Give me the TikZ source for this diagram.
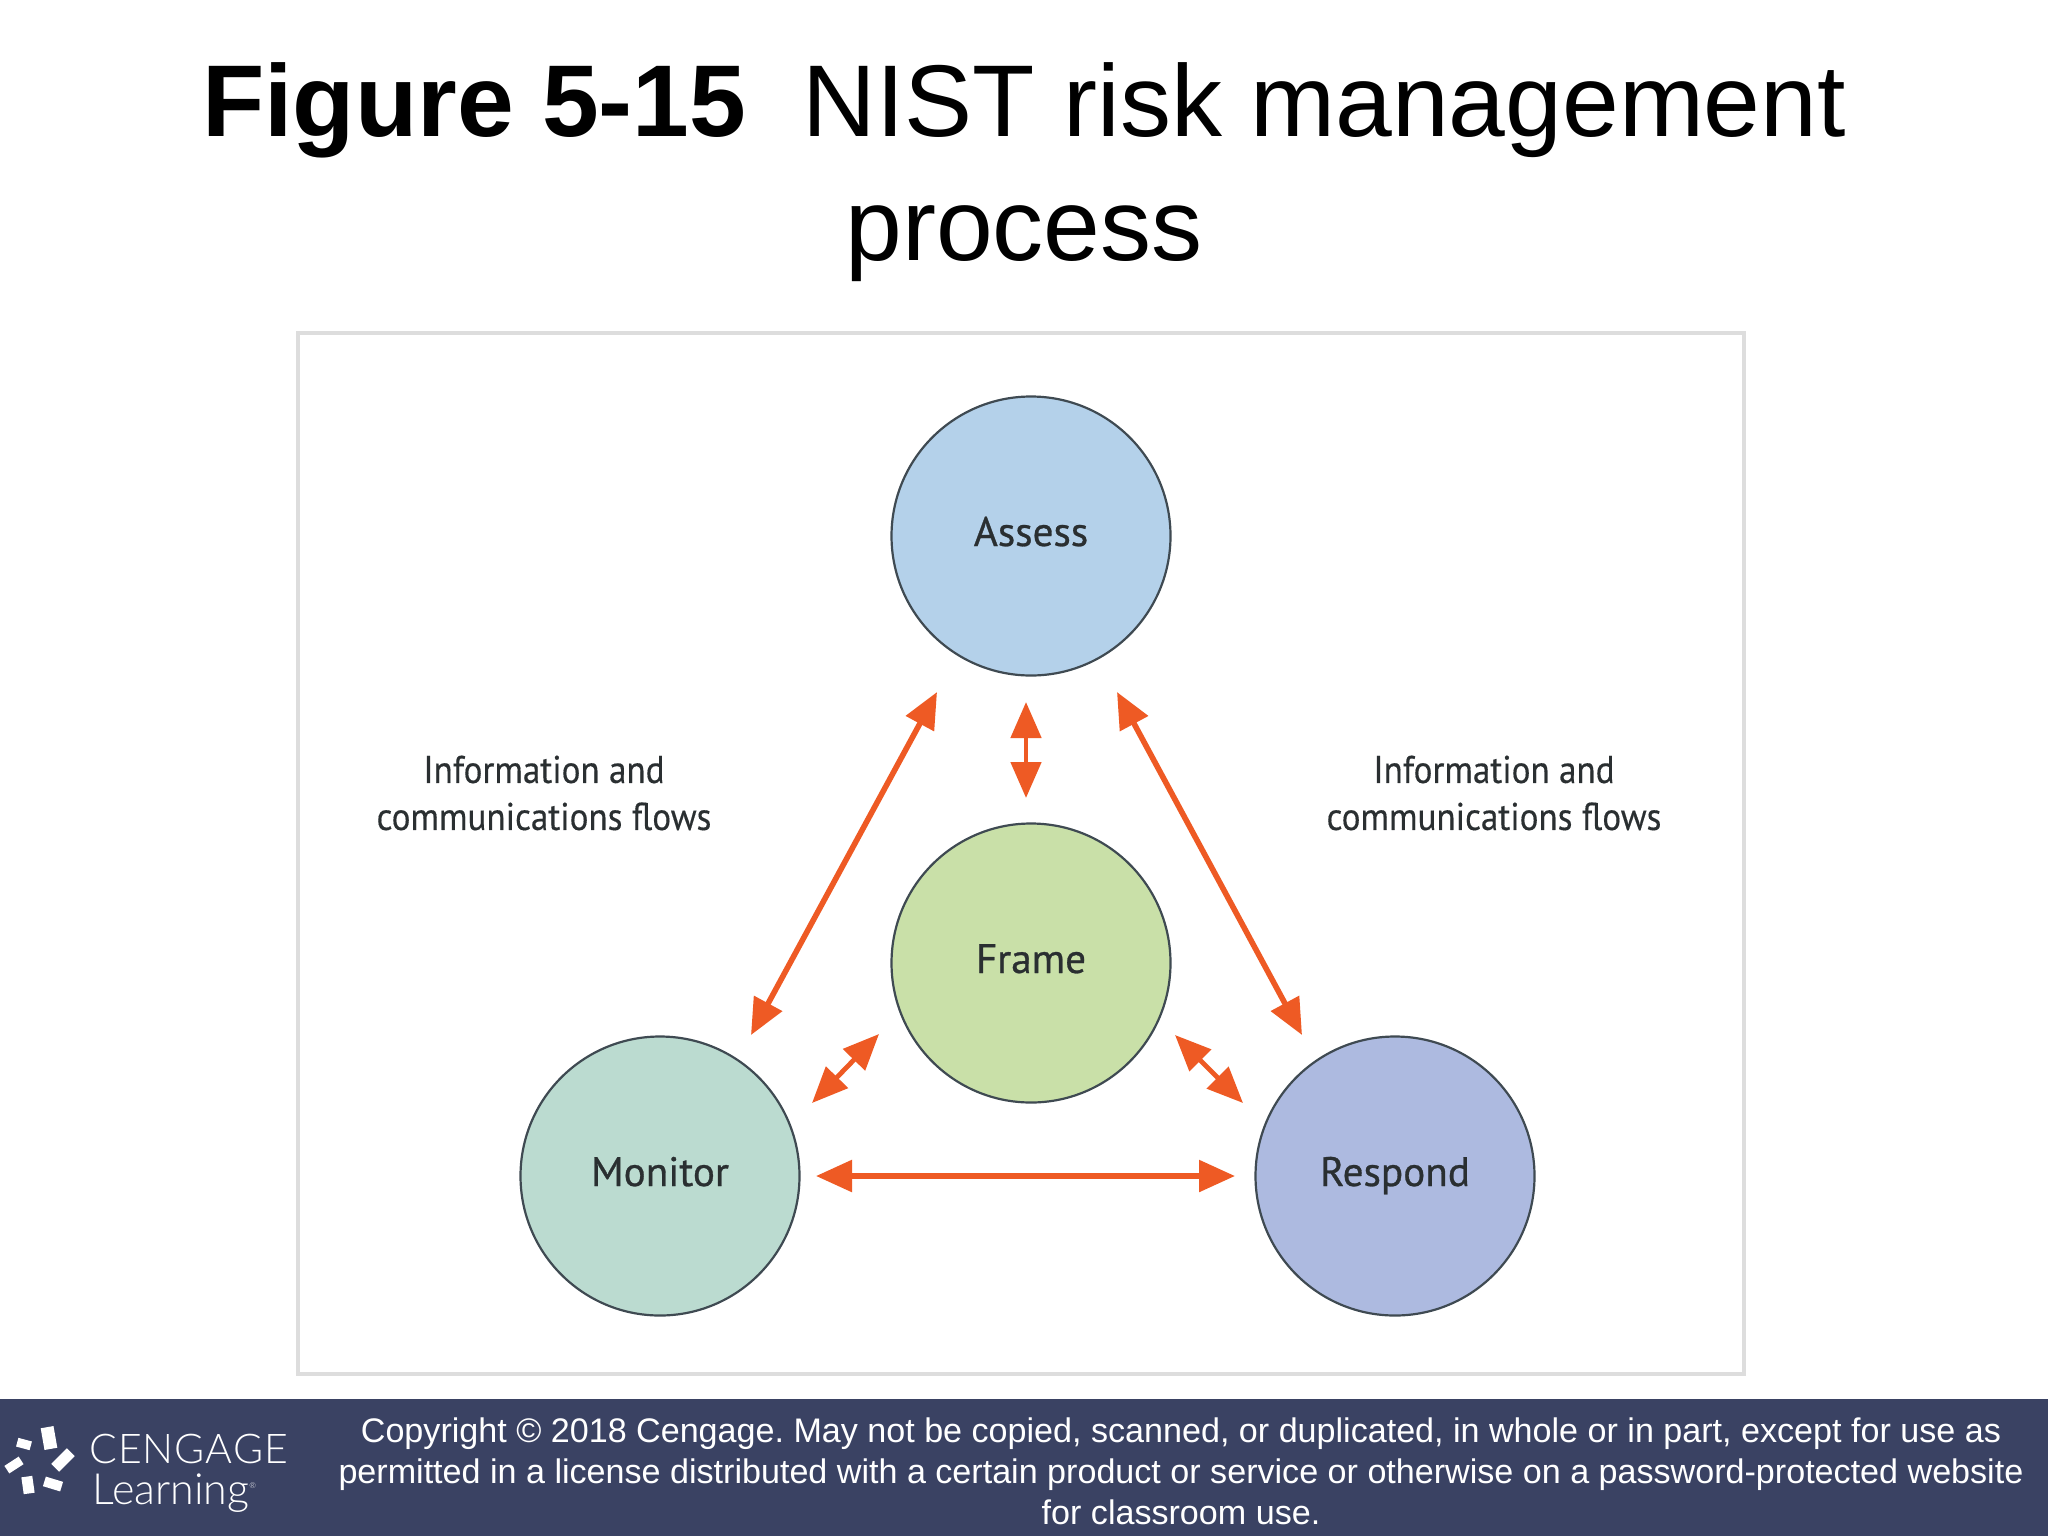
\documentclass[tikz,border=0pt]{standalone}
\usepackage{fontspec}
\setmainfont{Liberation Sans}
\newfontfamily\labelfont[FakeBold=0.7]{PT Sans}
\newfontfamily\notefont[FakeStretch=0.91,FakeBold=0.35]{PT Sans}
\newfontfamily\logofont{Lato Light}
\usetikzlibrary{arrows.meta}
\definecolor{footerblue}{HTML}{3A4263}
\definecolor{framegrey}{HTML}{DDDDDD}
\definecolor{flow}{HTML}{EE5A24}
\definecolor{ringc}{HTML}{3F4A52}
\definecolor{assessc}{HTML}{B4D1EA}
\definecolor{framec}{HTML}{C9E0A8}
\definecolor{monitorc}{HTML}{BBDBD0}
\definecolor{respondc}{HTML}{ADBAE0}
\definecolor{labelc}{HTML}{2A2F31}
\tikzset{
  px/.style={x=0.5pt,y=-0.5pt},
  stage/.style={circle,draw=ringc,line width=1.1pt,minimum size=139.5pt,inner sep=0pt,text height=15pt,text depth=5pt,font=\labelfont\fontsize{20.6}{24}\selectfont,text=labelc},
  note/.style={align=center,font=\notefont\fontsize{19.3}{23.5}\selectfont,text=labelc},
  flowline/.style={draw=flow,line width=2.8pt,{Triangle[length=18pt,width=15.5pt]}-{Triangle[length=18pt,width=15.5pt]}},
  shortflow/.style={draw=flow,line width=2.4pt,{Triangle[length=18pt,width=15pt]}-{Triangle[length=18pt,width=15pt]}},
  chip/.style={fill=white,inner sep=0pt,draw=none},
  footertext/.style={text=white,align=center,font=\frenchspacing\fontsize{17.05}{20.4}\selectfont},
}
\begin{document}
\begin{tikzpicture}[px]
\useasboundingbox (0,0) rectangle (2048,1536);
\fill[white] (0,0) rectangle (2048,1536);
\node[align=center,font=\fontsize{51}{62}\selectfont] (title) at (1024,172) {\textbf{Figure 5-15}\ \ NIST risk management\\process};
\node[draw=framegrey,line width=2pt,fill=white,minimum width=723pt,minimum height=520.5pt,inner sep=0pt] (panel) at (1021,853.5) {};
\node[stage,fill=assessc] (assess) at (1031,536) {Assess};
\node[stage,fill=framec] (frame) at (1031,963) {Frame};
\node[stage,fill=monitorc] (monitor) at (660,1176) {Monitor};
\node[stage,fill=respondc] (respond) at (1395,1176) {Respond};
\node[note] (noteL) at (544,793) {Information and\\communications flows};
\node[note] (noteR) at (1494,793) {Information and\\communications flows};
\coordinate (a1) at (937,692); \coordinate (a2) at (751,1035);
\coordinate (b1) at (1117,692); \coordinate (b2) at (1302,1035);
\coordinate (c1) at (1026,702); \coordinate (c2) at (1026,798);
\coordinate (d1) at (879,1034); \coordinate (d2) at (812,1103);
\coordinate (e1) at (1175,1035); \coordinate (e2) at (1243,1103);
\coordinate (f1) at (816,1176); \coordinate (f2) at (1235,1176);
\draw[flowline] (a1) -- (a2);
\draw[flowline] (b1) -- (b2);
\draw[flowline] (f1) -- (f2);
\draw[shortflow] (c1) -- (c2);
\draw[shortflow] (d1) -- (d2);
\draw[shortflow] (e1) -- (e2);
\fill[footerblue] (0,1399) rectangle (2048,1536);
\node[chip,minimum width=6.5pt,minimum height=11pt,rotate=10] (p1) at (49,1438) {};
\node[chip,minimum width=7pt,minimum height=4.5pt,rotate=-15] (p2) at (24,1444) {};
\node[chip,minimum width=11pt,minimum height=5.5pt,rotate=45] (p3) at (63,1460) {};
\node[chip,minimum width=8.5pt,minimum height=4.5pt,rotate=33] (p4) at (14,1465) {};
\node[chip,minimum width=5.5pt,minimum height=8.5pt,rotate=8] (p5) at (28,1485) {};
\node[chip,minimum width=9pt,minimum height=5pt,rotate=-17] (p6) at (53,1484) {};
\node[anchor=base west,inner sep=0pt,text=white,font=\logofont\fontsize{20.5}{24}\addfontfeature{LetterSpace=2.5}] (cengage) at (89,1463) {CENGAGE};
\node[anchor=base west,inner sep=0pt,text=white,font=\logofont\fontsize{21.5}{24}\selectfont] (learning) at (92,1504) {Learning\textsuperscript{\fontsize{4}{4}\selectfont ®}};
\node[footertext] (copy) at (1181,1471) {Copyright © 2018 Cengage. May not be copied, scanned, or duplicated, in whole or in part, except for use as\\permitted in a license distributed with a certain product or service or otherwise on a password-protected website\\for classroom use.};
\end{tikzpicture}
\end{document}
